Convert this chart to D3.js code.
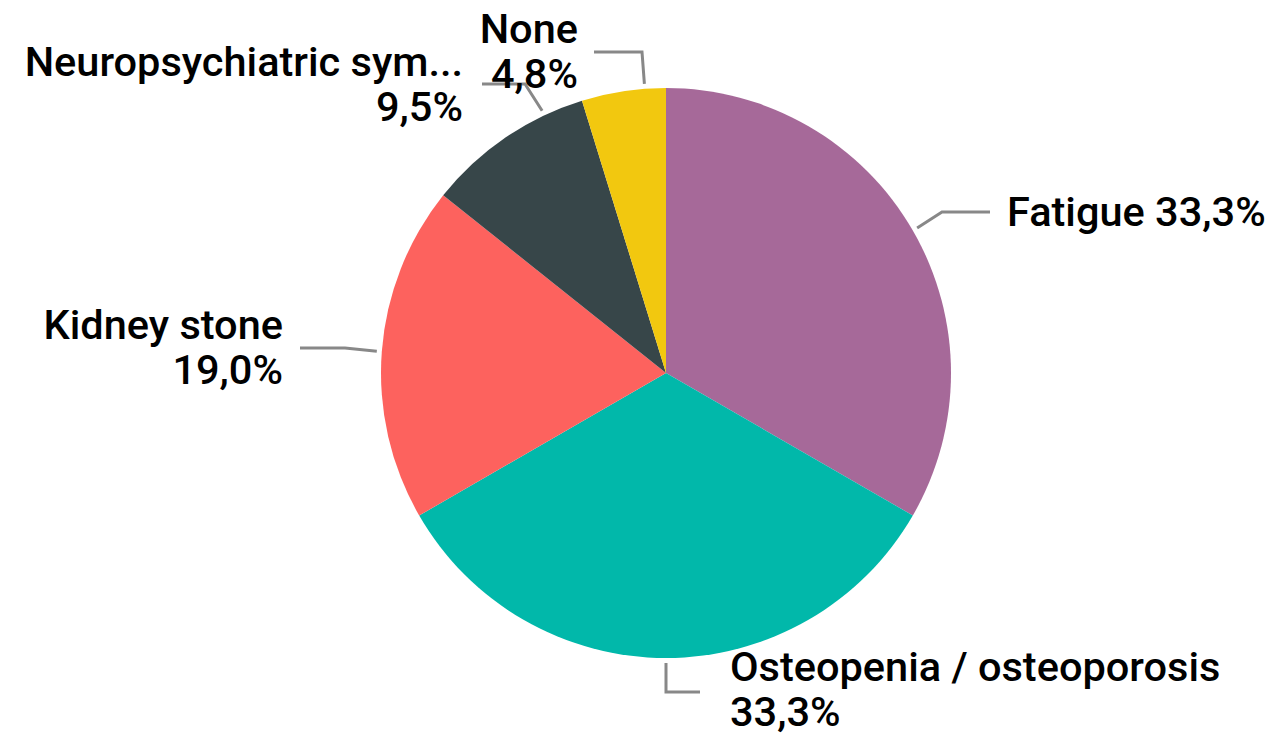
<!DOCTYPE html>
<html>
<head>
<meta charset="utf-8">
<script src="https://d3js.org/d3.v7.min.js"></script>
<style>
  body { margin: 0; background: #fff; }
  svg { display: block; }
  .lbl { font-family: Roboto, "DejaVu Sans Condensed", sans-serif; font-size: 41.5px; font-weight: 500; fill: #000; }
</style>
</head>
<body>
<div id="chart"></div>
<script>
// data
var categories = ["Fatigue", "Osteopenia / osteoporosis", "Kidney stone", "Neuropsychiatric sym...", "None"];
var counts = [7, 7, 4, 2, 1];
var percentLabels = ["33,3%", "33,3%", "19,0%", "9,5%", "4,8%"];
var colors = ["#A66999", "#01B8AA", "#FD625E", "#374649", "#F2C80F"];

// label layout (angle on pie edge, elbow, text anchor)
// dAng = degrees offset from the slice mid-angle for the leader start
var labelLayout = [
  { dAng: 0,    elbow: [942, 212], end: [990, 212], tx: 1007, ty: 226, anchor: "start", lines: 1 },
  { dAng: 0,    elbow: [666, 692], end: [700, 692], tx: 730,  ty: 681, anchor: "start", lines: 2 },
  { dAng: 0,    elbow: [345, 348], end: [300, 348], tx: 283,  ty: 339, anchor: "end",   lines: 2 },
  { dAng: 9,    elbow: [525, 84],  end: [482, 84],  tx: 463,  ty: 76,  anchor: "end",   lines: 2 },
  { dAng: 4.3,  elbow: [642, 52],  end: [594, 52],  tx: 578,  ty: 43,  anchor: "end",   lines: 2 }
];

var width = 1276, height = 737;
var cx = 666, cy = 373, radius = 285;

var svg = d3.select("#chart").append("svg")
  .attr("width", width)
  .attr("height", height);

var g = svg.append("g").attr("transform", "translate(" + cx + "," + cy + ")");

var pie = d3.pie().sort(null).value(function(d) { return d; });
var arcs = pie(counts);
var arc = d3.arc().innerRadius(0).outerRadius(radius);

g.selectAll("path.slice")
  .data(arcs)
  .enter()
  .append("path")
  .attr("class", "slice")
  .attr("d", arc)
  .attr("fill", function(d, i) { return colors[i]; });

// leader lines
function edgePoint(d, i) {
  var a = (d.startAngle + d.endAngle) / 2 + labelLayout[i].dAng * Math.PI / 180;
  var r = radius + 5;
  return [cx + r * Math.sin(a), cy - r * Math.cos(a)];
}

svg.selectAll("polyline.leader")
  .data(arcs)
  .enter()
  .append("polyline")
  .attr("class", "leader")
  .attr("points", function(d, i) {
    var p = edgePoint(d, i);
    var L = labelLayout[i];
    return [p, L.elbow, L.end].map(function(q) { return q.join(","); }).join(" ");
  })
  .attr("fill", "none")
  .attr("stroke", "#888888")
  .attr("stroke-width", 3);

// labels
var lineH = 45;
svg.selectAll("text.lbl")
  .data(arcs)
  .enter()
  .append("text")
  .attr("class", "lbl")
  .attr("text-anchor", function(d, i) { return labelLayout[i].anchor; })
  .each(function(d, i) {
    var t = d3.select(this);
    var L = labelLayout[i];
    if (L.lines == 1) {
      t.append("tspan").attr("x", L.tx).attr("y", L.ty).text(categories[i] + " " + percentLabels[i]);
    } else {
      t.append("tspan").attr("x", L.tx).attr("y", L.ty).text(categories[i]);
      t.append("tspan").attr("x", L.tx).attr("y", L.ty + lineH).text(percentLabels[i]);
    }
  });
</script>
</body>
</html>
